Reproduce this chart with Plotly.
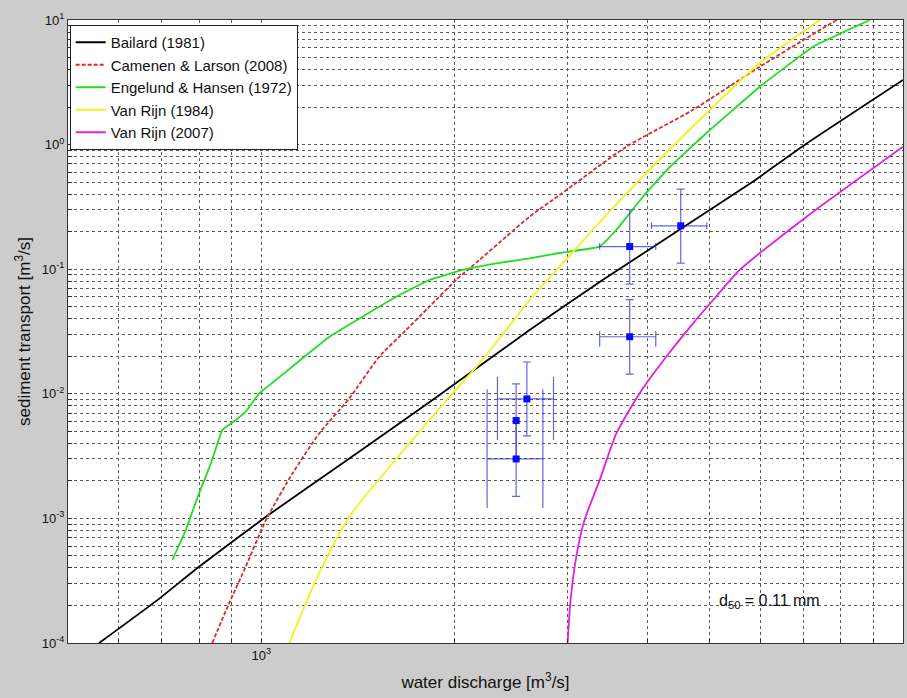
import math
import plotly.graph_objects as go

# ---------------- data ----------------
bailard_q = [559, 689, 800, 1017, 1372, 1849, 2619, 3404, 5834, 7077, 10000]
bailard_s = [1.0e-4, 2.21e-4, 4.09e-4, 1.03e-3, 3.03e-3, 8.91e-3, 0.0325, 0.0819, 0.504, 1.02, 3.30]

camenen_q = [839, 891, 946, 1017, 1119, 1232, 1372, 1528, 1682, 1828, 2012, 2188, 2408, 2619, 2917, 3707, 4703, 5983, 7881]
camenen_s = [1.0e-4, 2.08e-4, 4.09e-4, 9.7e-4, 2.30e-3, 4.82e-3, 9.2e-3, 0.0199, 0.0325, 0.050, 0.0819, 0.1186, 0.1824, 0.264, 0.394, 0.962, 1.895, 4.22, 10.0]

engelund_q = [727, 763, 800, 835, 870, 913, 946, 993, 1054, 1277, 1438, 1623, 1828, 2059, 2323, 2619, 2917, 3368, 3576, 3930, 4330, 4941, 5983, 7240, 8882]
engelund_s = [4.64e-4, 8.07e-4, 1.59e-3, 2.77e-3, 5.12e-3, 6.16e-3, 7.18e-3, 0.0101, 0.0129, 0.0287, 0.0416, 0.0601, 0.0819, 0.0986, 0.1115, 0.1223, 0.1349, 0.1518, 0.2064, 0.3797, 0.661, 1.239, 2.915, 6.11, 10.0]

vanrijn84_q = [1106, 1217, 1372, 1966, 2188, 2408, 2619, 2917, 3284, 3930, 5000, 5983, 7424]
vanrijn84_s = [1.0e-4, 3.2e-4, 1.03e-3, 9.48e-3, 0.01757, 0.0325, 0.0566, 0.1047, 0.2064, 0.5526, 1.895, 4.52, 10.0]

vanrijn07_q = [3002, 3034, 3100, 3190, 3368, 3576, 3888, 4279, 4709, 5060, 5568, 7077, 10000]
vanrijn07_s = [1.0e-4, 2.21e-4, 5.08e-4, 9.7e-4, 2.03e-3, 4.82e-3, 0.0101, 0.0199, 0.0368, 0.0566, 0.0986, 0.264, 0.962]

# measurements
meas_q = [3751, 4505, 3751, 2594, 2496, 2496]
meas_s = [0.152, 0.223, 0.0287, 0.0091, 0.0061, 0.0030]
meas_q_low = [3368, 4055, 3368, 2334, 2496, 2249]
meas_q_high = [4119, 4946, 4119, 2854, 2496, 2747]
meas_s_low = [0.076, 0.112, 0.0144, 0.0046, 0.0030, 0.0015]
meas_s_high = [0.30, 0.44, 0.057, 0.018, 0.012, 0.006]
# vertical extent of the end caps of the horizontal error bars
cap_s_low = [0.143, 0.210, 0.0239, 0.00426, None, 0.00121]
cap_s_high = [0.162, 0.237, 0.0319, 0.0137, None, 0.0109]

legend_names = ["Bailard (1981)", "Camenen & Larson (2008)", "Engelund & Hansen (1972)",
                "Van Rijn (1984)", "Van Rijn (2007)"]
x_major = [1000, 10000]

# ---------------- figure ----------------
FONT = "Liberation Sans, Arial, sans-serif"
fig = go.Figure()

curves = [
    (bailard_q, bailard_s, "#000000", "solid", "spline", 0.4),
    (camenen_q, camenen_s, "#e02828", "4px,2px", "spline", 0.6),
    (engelund_q, engelund_s, "#22dd22", "solid", "spline", 0.25),
    (vanrijn84_q, vanrijn84_s, "#f2f21a", "solid", "spline", 0.6),
    (vanrijn07_q, vanrijn07_s, "#e020e0", "solid", "spline", 0.6),
]
for (q, s, c, d, shp, sm), name in zip(curves, legend_names):
    fig.add_trace(go.Scatter(x=q, y=s, mode="lines", name=name,
                             line=dict(color=c, width=1.8, dash=d, shape=shp, smoothing=sm)))

# caps of horizontal error bars (variable length as in the reference)
cx, cy = [], []
for ql, qh, lo, hi in zip(meas_q_low, meas_q_high, cap_s_low, cap_s_high):
    if lo is None:
        continue
    cx += [ql, ql, None, qh, qh, None]
    cy += [lo, hi, None, lo, hi, None]
ebc = "rgba(50,50,215,0.75)"
fig.add_trace(go.Scatter(x=cx, y=cy, mode="lines", showlegend=False,
                         line=dict(color=ebc, width=1.2), hoverinfo="skip"))

fig.add_trace(go.Scatter(
    x=meas_q, y=meas_s, mode="markers", showlegend=False,
    marker=dict(symbol="square", size=7, color="#0a0aff"),
    error_y=dict(type="data", symmetric=False,
                 array=[h - v for h, v in zip(meas_s_high, meas_s)],
                 arrayminus=[v - l for v, l in zip(meas_s, meas_s_low)],
                 color=ebc, thickness=1.2, width=4),
    error_x=dict(type="data", symmetric=False,
                 array=[h - v for h, v in zip(meas_q_high, meas_q)],
                 arrayminus=[v - l for v, l in zip(meas_q, meas_q_low)],
                 color=ebc, thickness=1.2, width=0),
))

def sup_label(v):
    e = int(round(math.log10(v)))
    return "10<sup>%d</sup>" % e

x_tickvals, x_ticktext = [], []
for dec in [100, 1000]:
    for k in range(1, 10):
        v = k * dec
        if v < 500:
            continue
        x_tickvals.append(v)
        x_ticktext.append(sup_label(v) if v in x_major else "")
x_tickvals.append(10000)
x_ticktext.append(sup_label(10000))

y_tickvals, y_ticktext = [], []
for e in range(-4, 1):
    for k in range(1, 10):
        v = k * 10 ** e
        y_tickvals.append(v)
        y_ticktext.append(sup_label(v) if k == 1 else "")
y_tickvals.append(10)
y_ticktext.append(sup_label(10))

grid = dict(showgrid=True, gridcolor="#5a5a5a", griddash="dot", gridwidth=1,
            showline=True, mirror=True, linecolor="#333333", linewidth=1,
            ticks="inside", ticklen=4, tickcolor="#333333", zeroline=False,
            tickfont=dict(family=FONT, size=13, color="#111111"))

fig.update_xaxes(type="log", range=[math.log10(500), 4], tickmode="array",
                 tickvals=x_tickvals, ticktext=x_ticktext,
                 title=dict(text="water discharge [m<sup>3</sup>/s]",
                            font=dict(family=FONT, size=17, color="#111111"), standoff=14),
                 **grid)
fig.update_yaxes(type="log", range=[-4, 1], tickmode="array",
                 tickvals=y_tickvals, ticktext=y_ticktext,
                 title=dict(text="sediment transport [m<sup>3</sup>/s]",
                            font=dict(family=FONT, size=17, color="#111111"), standoff=6),
                 **grid)

fig.add_annotation(text="d<sub>50</sub> = 0.11 mm", xref="paper", yref="paper",
                   x=0.8407, y=0.0674, xanchor="center", yanchor="middle", showarrow=False,
                   font=dict(family=FONT, size=16, color="#111111"))

fig.update_layout(
    width=907, height=698,
    margin=dict(l=68, r=4, t=20, b=55),
    paper_bgcolor="#cccccc", plot_bgcolor="#ffffff",
    font=dict(family=FONT, color="#111111"),
    legend=dict(x=0.002, y=0.992, xanchor="left", yanchor="top",
                bgcolor="#ffffff", bordercolor="#222222", borderwidth=1,
                font=dict(family=FONT, size=15, color="#111111"),
                tracegroupgap=0, itemwidth=30),
    showlegend=True,
)

fig.write_html("out.html")
